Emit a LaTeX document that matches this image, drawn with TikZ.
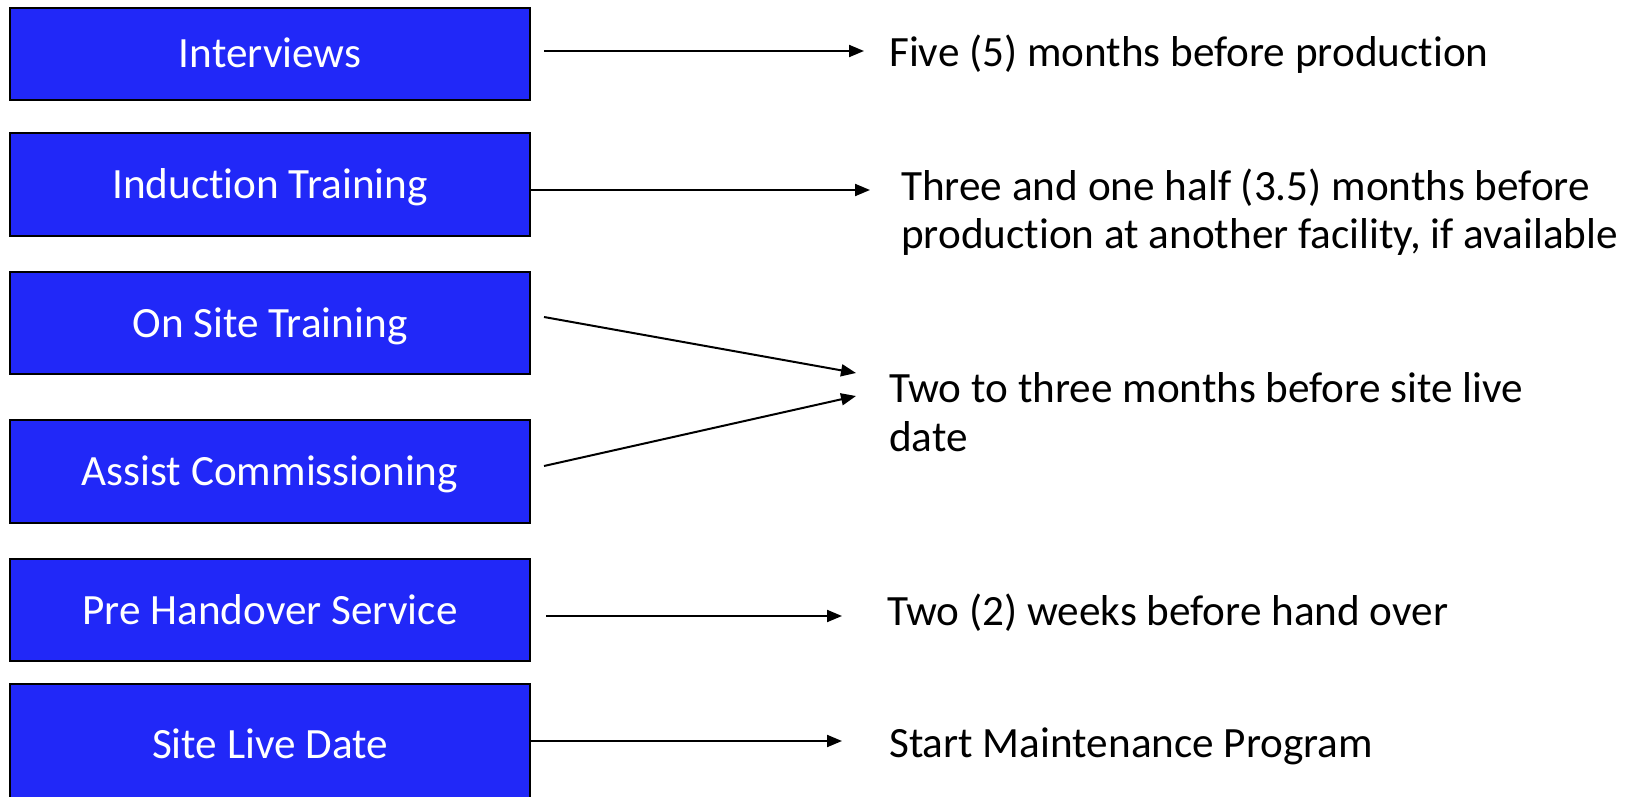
\documentclass[tikz,border=0pt]{standalone}
\usepackage{fontspec}
\setmainfont[RawFeature=-liga]{Carlito}
\usetikzlibrary{arrows.meta}
\definecolor{boxblue}{RGB}{33,40,248}
\begin{document}
\begin{tikzpicture}[x=1pt,y=-1pt,
  stagebox/.style={draw=black,line width=2.6pt,fill=boxblue,text=white,
    minimum width=520pt,inner sep=0pt,text height=28pt,text depth=0pt,
    font=\fontsize{43.2}{48.5}\selectfont},
  note/.style={anchor=base west,inner sep=0pt,align=left,
    font=\fontsize{43.2}{48.5}\selectfont},
  link/.style={line width=2pt,-{Triangle[length=15pt,width=12pt]}}]
\useasboundingbox (0,0) rectangle (1625,797);
\clip (0,0) rectangle (1625,797);

% stage boxes
\node[stagebox,minimum height=92pt]  (iv) at (270,54)    {Interviews};
\node[stagebox,minimum height=103pt] (it) at (270,184.5) {Induction Training};
\node[stagebox,minimum height=102pt] (os) at (270,323)   {On Site Training};
\node[stagebox,minimum height=103pt] (ac) at (270,471.5) {Assist Commissioning};
\node[stagebox,minimum height=102pt] (ph) at (270,610)   {Pre Handover Service};
\node[stagebox,minimum height=120pt] (sl) at (270,744)   {Site Live Date};

% timing notes (two-line notes are placed by the baseline of their last line)
\node[note] (t1) at (889,67)    {Five (5) months before production};
\node[note] (t2) at (901,248.5) {Three and one half (3.5) months before\\production at another facility, if available};
\node[note] (t3) at (889,451)   {Two to three months before site live\\date};
\node[note] (t4) at (887,625)   {Two (2) weeks before hand over};
\node[note] (t5) at (889,757)   {Start Maintenance Program};

% arrow end points
\coordinate (a1s) at (544,51);  \coordinate (a1e) at (864,51);
\coordinate (a2s) at (530,190); \coordinate (a2e) at (870,190);
\coordinate (a3s) at (544,317); \coordinate (a3e) at (856,373);
\coordinate (a4s) at (544,466); \coordinate (a4e) at (856,396);
\coordinate (a5s) at (546,616); \coordinate (a5e) at (842,616);
\coordinate (a6s) at (530,741); \coordinate (a6e) at (842,741);

\draw[link] (a1s) -- (a1e);
\draw[link] (a2s) -- (a2e);
\draw[link] (a3s) -- (a3e);
\draw[link] (a4s) -- (a4e);
\draw[link] (a5s) -- (a5e);
\draw[link] (a6s) -- (a6e);
\end{tikzpicture}
\end{document}
